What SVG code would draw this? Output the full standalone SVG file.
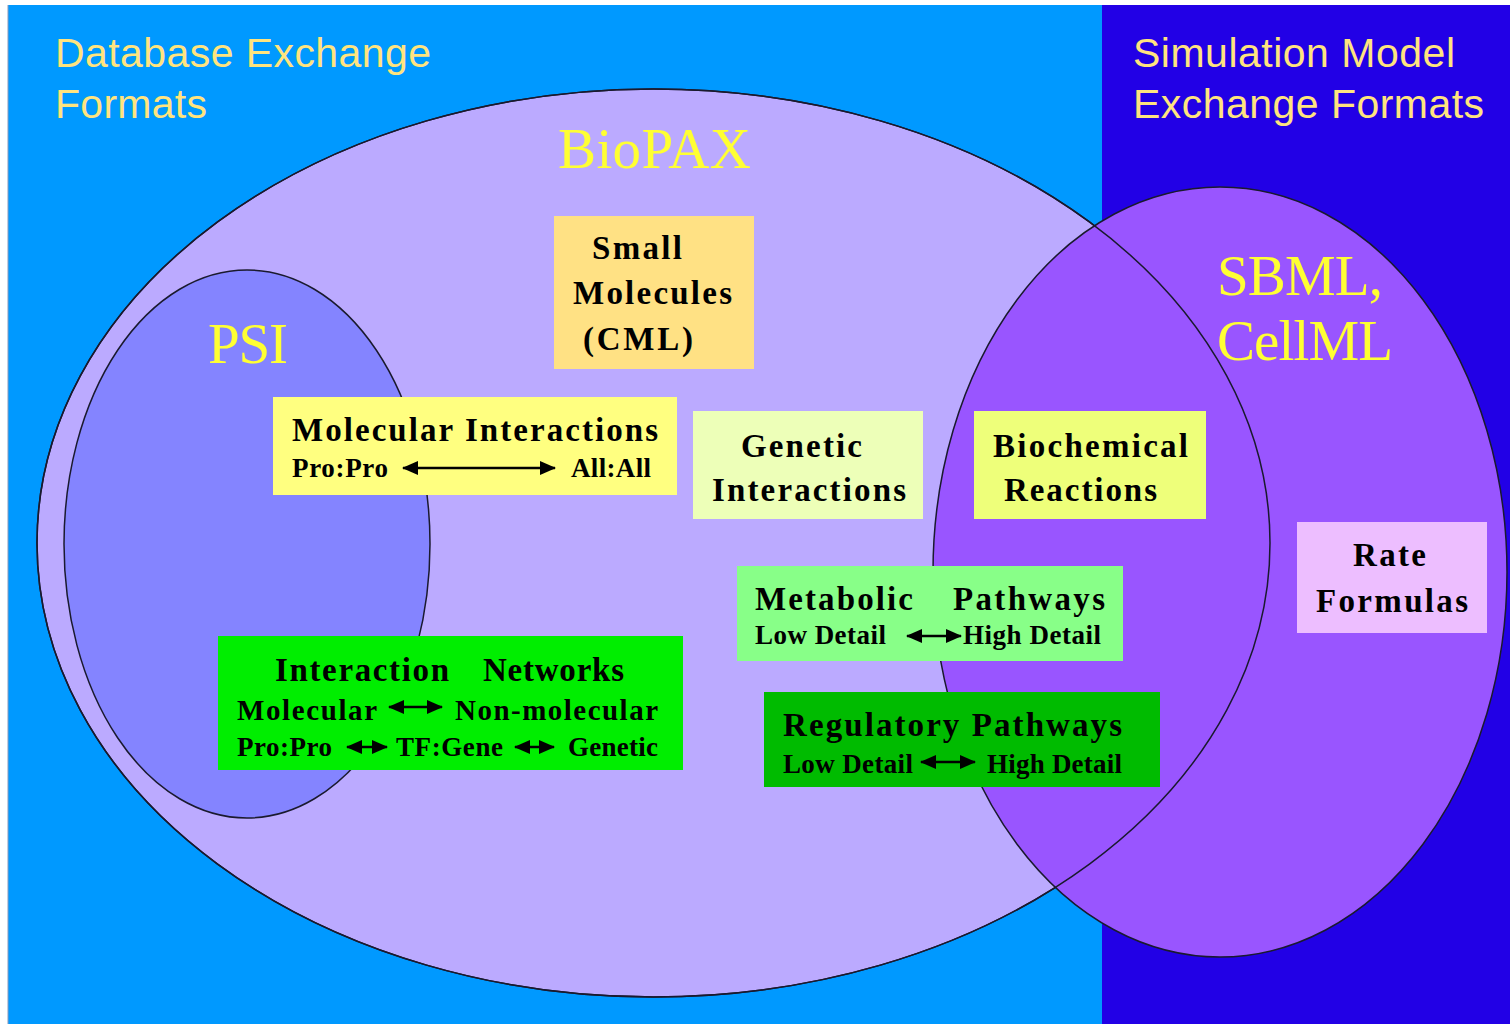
<svg xmlns="http://www.w3.org/2000/svg" width="1510" height="1024" viewBox="0 0 1510 1024">
<style>
.hd{font-family:"Liberation Sans",Arial,sans-serif;font-size:41px;fill:#FFE47F}
.big{font-family:"Liberation Serif","Times New Roman",serif;font-size:57px;fill:#FFFF33}
.t{font-family:"Liberation Serif","Times New Roman",serif;font-size:33px;font-weight:bold;fill:#000}
.s{font-family:"Liberation Serif","Times New Roman",serif;font-size:27px;font-weight:bold;fill:#000}
.sb{font-family:"Liberation Serif","Times New Roman",serif;font-size:29px;font-weight:bold;fill:#000}
.ell{stroke:#1a1a2e;stroke-width:1.5}
.arr{stroke:#000;stroke-width:2.5;fill:none;marker-start:url(#ah);marker-end:url(#ah)}
</style>
<defs>
<marker id="ah" viewBox="0 0 16 14" refX="15" refY="7" markerUnits="userSpaceOnUse" markerWidth="16" markerHeight="14" orient="auto-start-reverse" preserveAspectRatio="none">
<path d="M0,0 L16,7 L0,14 z" fill="#000"/>
</marker>
</defs>
<rect x="0" y="0" width="1510" height="1024" fill="#ffffff"/>
<g id="background">
<rect x="8" y="5" width="1094" height="1019" fill="#0099FF"/>
<rect x="1102" y="5" width="408" height="1019" fill="#2200E6"/>
<line x1="8" y1="5" x2="8" y2="1024" stroke="#8899bb" stroke-width="1"/>
<text class="hd" x="55" y="67" textLength="376">Database Exchange</text>
<text class="hd" x="55" y="118" textLength="152">Formats</text>
<text class="hd" x="1133" y="67" textLength="322">Simulation Model</text>
<text class="hd" x="1133" y="118" textLength="351">Exchange Formats</text>
</g>
<g id="biopax">
<ellipse cx="653.5" cy="543" rx="616.5" ry="454" fill="#BBAAFF" class="ell"/>
<text class="big" x="558" y="168" textLength="193">BioPAX</text>
</g>
<g id="psi">
<ellipse cx="247" cy="544" rx="183" ry="274" fill="#8484FF" class="ell"/>
<text class="big" x="208" y="363" textLength="80">PSI</text>
</g>
<g id="sbml">
<ellipse cx="1220" cy="572" rx="287" ry="385" fill="#9955FF" class="ell"/>
<ellipse cx="653.5" cy="543" rx="616.5" ry="454" fill="none" class="ell"/>
<text class="big" x="1217" y="295" textLength="166">SBML,</text>
<text class="big" x="1217" y="360" textLength="176">CellML</text>
</g>
<g id="small-molecules">
<rect x="554" y="216" width="200" height="153" fill="#FFE184"/>
<text class="t" x="592" y="259" textLength="90">Small</text>
<text class="t" x="573" y="304" textLength="159">Molecules</text>
<text class="t" x="583" y="350" textLength="110">(CML)</text>
</g>
<g id="molecular-interactions">
<rect x="273" y="397" width="404" height="98" fill="#FFFF80"/>
<text class="t" x="292" y="441" textLength="366">Molecular Interactions</text>
<text class="s" x="292" y="477" textLength="96">Pro:Pro</text>
<text class="s" x="571" y="477" textLength="80">All:All</text>
</g>
<g id="genetic-interactions">
<rect x="693" y="411" width="230" height="108" fill="#EDFFB8"/>
<text class="t" x="741" y="457" textLength="121">Genetic</text>
<text class="t" x="712" y="501" textLength="194">Interactions</text>
</g>
<g id="biochemical-reactions">
<rect x="974" y="411" width="232" height="108" fill="#EEFF7A"/>
<text class="t" x="993" y="457" textLength="195">Biochemical</text>
<text class="t" x="1004" y="501" textLength="153">Reactions</text>
</g>
<g id="rate-formulas">
<rect x="1297" y="522" width="190" height="111" fill="#EDBEFF"/>
<text class="t" x="1353" y="566" textLength="73">Rate</text>
<text class="t" x="1316" y="612" textLength="152">Formulas</text>
</g>
<g id="metabolic-pathways">
<rect x="737" y="566" width="386" height="95" fill="#88FF88"/>
<text class="t" x="755" y="610" textLength="158">Metabolic</text>
<text class="t" x="953" y="610" textLength="152">Pathways</text>
<text class="s" x="755" y="644" textLength="131">Low Detail</text>
<text class="s" x="963" y="644" textLength="138">High Detail</text>
</g>
<g id="interaction-networks">
<rect x="218" y="636" width="465" height="134" fill="#00EE00"/>
<text class="t" y="681"><tspan x="275" textLength="174">Interaction</tspan><tspan x="474" textLength="150">  Networks</tspan></text>
<text class="sb" x="237" y="720" textLength="140">Molecular</text>
<text class="sb" x="455" y="720" textLength="203">Non-molecular</text>
<text class="s" x="237" y="756" textLength="95">Pro:Pro</text>
<text class="s" x="396" y="756" textLength="107">TF:Gene</text>
<text class="s" x="568" y="756" textLength="90">Genetic</text>
</g>
<g id="regulatory-pathways">
<rect x="764" y="692" width="396" height="95" fill="#00BB00"/>
<text class="t" x="783" y="736" textLength="339">Regulatory Pathways</text>
<text class="s" x="783" y="773" textLength="130">Low Detail</text>
<text class="s" x="987" y="773" textLength="135">High Detail</text>
</g>
<g id="connectors">
<line class="arr" x1="403" y1="468" x2="555" y2="468"/>
<line class="arr" x1="389" y1="707" x2="442" y2="707"/>
<line class="arr" x1="347" y1="747" x2="387" y2="747"/>
<line class="arr" x1="515" y1="747" x2="554" y2="747"/>
<line class="arr" x1="907" y1="636" x2="961" y2="636"/>
<line class="arr" x1="921" y1="762" x2="975" y2="762"/>
</g>
</svg>
